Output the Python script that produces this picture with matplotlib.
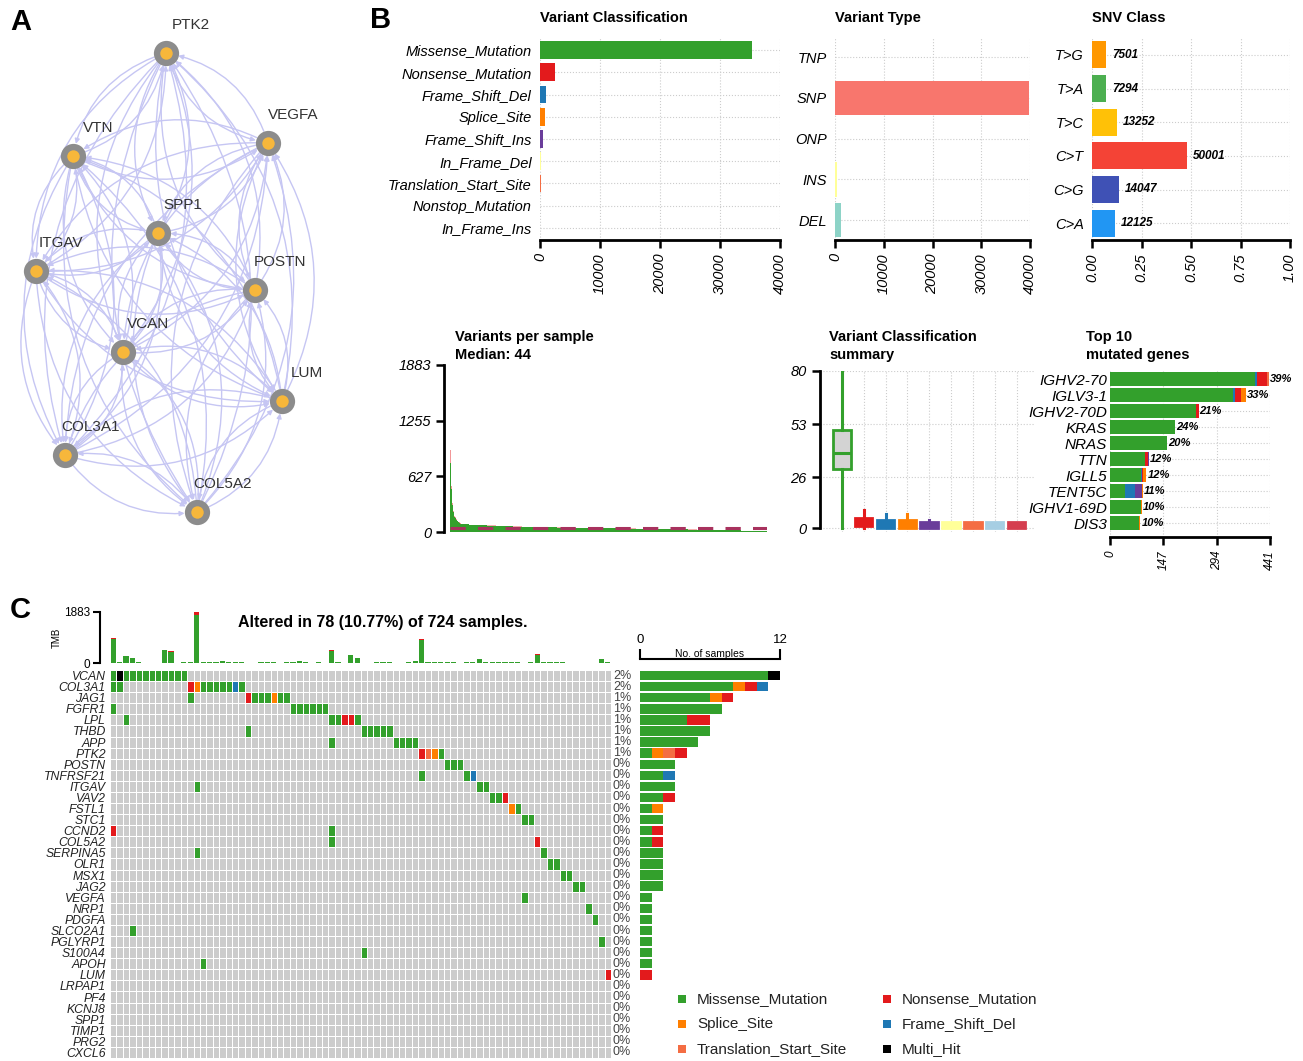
import numpy as np
import matplotlib
matplotlib.use('Agg')
import matplotlib.pyplot as plt
from matplotlib.patches import FancyArrowPatch
from matplotlib.colors import ListedColormap

plt.rcParams['font.family'] = ['Liberation Sans', 'DejaVu Sans']

W, H = 1303, 1061

# ---------------- data ----------------
# A: PPI network (layout in panel pixel units)
net_nodes = ['PTK2', 'VEGFA', 'VTN', 'SPP1', 'ITGAV', 'POSTN', 'VCAN', 'LUM', 'COL3A1', 'COL5A2']
net_x = [166, 268, 73, 158, 36, 255, 123, 282, 65, 197]
net_y = [53, 143, 156, 233, 271, 290, 352, 401, 455, 512]
net_edges = [
    ('PTK2', 'VEGFA'), ('PTK2', 'VTN'), ('PTK2', 'SPP1'), ('PTK2', 'ITGAV'), ('PTK2', 'POSTN'),
    ('PTK2', 'VCAN'), ('PTK2', 'LUM'), ('PTK2', 'COL3A1'), ('PTK2', 'COL5A2'),
    ('VEGFA', 'VTN'), ('VEGFA', 'SPP1'), ('VEGFA', 'ITGAV'), ('VEGFA', 'POSTN'), ('VEGFA', 'VCAN'),
    ('VEGFA', 'LUM'), ('VEGFA', 'COL3A1'), ('VEGFA', 'COL5A2'),
    ('VTN', 'SPP1'), ('VTN', 'ITGAV'), ('VTN', 'POSTN'), ('VTN', 'VCAN'), ('VTN', 'LUM'),
    ('VTN', 'COL3A1'), ('VTN', 'COL5A2'),
    ('SPP1', 'ITGAV'), ('SPP1', 'POSTN'), ('SPP1', 'VCAN'), ('SPP1', 'LUM'), ('SPP1', 'COL3A1'), ('SPP1', 'COL5A2'),
    ('ITGAV', 'POSTN'), ('ITGAV', 'VCAN'), ('ITGAV', 'LUM'), ('ITGAV', 'COL3A1'), ('ITGAV', 'COL5A2'),
    ('POSTN', 'VCAN'), ('POSTN', 'LUM'), ('POSTN', 'COL3A1'), ('POSTN', 'COL5A2'),
    ('VCAN', 'LUM'), ('VCAN', 'COL3A1'), ('VCAN', 'COL5A2'),
    ('LUM', 'COL3A1'), ('LUM', 'COL5A2'),
    ('COL3A1', 'COL5A2'),
]

# B: maf summary
vc_classes = ['Missense_Mutation', 'Nonsense_Mutation', 'Frame_Shift_Del', 'Splice_Site', 'Frame_Shift_Ins',
              'In_Frame_Del', 'Translation_Start_Site', 'Nonstop_Mutation', 'In_Frame_Ins']
vc_counts = [35400, 2500, 1000, 900, 550, 180, 120, 40, 30]
vc_colors = ['#33a02c', '#e31a1c', '#1f78b4', '#ff7f00', '#6a3d9a', '#ffff99', '#f46d43', '#a6cee3', '#d53e4f']

vt_types = ['TNP', 'SNP', 'ONP', 'INS', 'DEL']
vt_counts = [60, 39800, 20, 400, 1300]
vt_colors = ['#bebada', '#f8766d', '#80b1d3', '#ffff99', '#8dd3c7']

snv_class = ['T>G', 'T>A', 'T>C', 'C>T', 'C>G', 'C>A']
snv_counts = [7501, 7294, 13252, 50001, 14047, 12125]
snv_colors = ['#ff9800', '#4caf50', '#ffc107', '#f44336', '#3f51b5', '#2196f3']

vps_top = [1883, 920, 780, 520, 400, 330, 280, 240, 210, 195, 185, 175, 165, 155, 150, 140, 135, 128,
           122, 118, 112, 108, 104, 100]
vps_top_nons = [880, 140, 60, 40, 30, 25, 20, 18, 15, 14, 13, 12, 12, 11, 10, 10, 9, 9, 8, 8, 8, 7, 7, 7]
vps_bins = [92, 84, 78, 74, 70, 67, 64, 61, 58, 56, 54, 52, 50, 48, 46, 45, 44, 42, 41, 40, 38, 37, 35,
            34, 32, 30, 29, 27, 25, 23, 21, 19, 16, 13, 8]
vps_bins_nons = [3, 3, 3, 3, 2, 2, 2, 2, 2, 2, 2, 2, 2, 2, 2, 2, 1, 1, 1, 1, 1, 1, 1, 1, 1, 1, 1, 1, 1,
                 1, 1, 1, 1, 1, 0]
vps_bin_size = 20
vps_median = 44

# whislo, q1, med, q3, whishi per class
vcs_stats = [(0, 30, 38, 50, 80), (0, 1, 3, 5, 9), (0, 0, 1, 4, 7), (0, 0, 2, 4, 7), (0, 0, 1, 3, 4),
             (0, 0, 1, 3, 3), (0, 0, 1, 3, 3), (0, 0, 1, 3, 3), (0, 0, 1, 3, 3)]

top_genes = ['IGHV2-70', 'IGLV3-1', 'IGHV2-70D', 'KRAS', 'NRAS', 'TTN', 'IGLL5', 'TENT5C', 'IGHV1-69D', 'DIS3']
top_pct = ['39%', '33%', '21%', '24%', '20%', '12%', '12%', '11%', '10%', '10%']
top_missense = [399, 339, 237, 178, 158, 97, 86, 40, 86, 79]
top_fsdel = [7, 6, 0, 0, 0, 0, 2, 30, 0, 0]
top_nonsense = [26, 17, 7, 0, 0, 8, 2, 0, 0, 0]
top_fsins = [0, 0, 0, 0, 0, 3, 0, 17, 0, 0]
top_splice = [0, 12, 0, 2, 0, 0, 10, 4, 1, 5]
top_tss = [6, 0, 0, 0, 0, 0, 0, 0, 0, 0]

# C: oncoplot
n_total = 724
n_altered = 78
onco_genes = ['VCAN', 'COL3A1', 'JAG1', 'FGFR1', 'LPL', 'THBD', 'APP', 'PTK2', 'POSTN', 'TNFRSF21', 'ITGAV',
              'VAV2', 'FSTL1', 'STC1', 'CCND2', 'COL5A2', 'SERPINA5', 'OLR1', 'MSX1', 'JAG2', 'VEGFA', 'NRP1',
              'PDGFA', 'SLCO2A1', 'PGLYRP1', 'S100A4', 'APOH', 'LUM', 'LRPAP1', 'PF4', 'KCNJ8', 'SPP1',
              'TIMP1', 'PRG2', 'CXCL6']
onco_hits = {
    'VCAN': {'M': [0, 2, 3, 4, 5, 6, 7, 8, 9, 10, 11], 'H': [1]},
    'COL3A1': {'M': [0, 1, 14, 15, 16, 17, 18, 20], 'N': [12], 'S': [13], 'D': [19]},
    'JAG1': {'M': [12, 22, 23, 24, 26, 27], 'N': [21], 'S': [25]},
    'FGFR1': {'M': [0, 28, 29, 30, 31, 32, 33]},
    'LPL': {'M': [2, 34, 35, 38], 'N': [36, 37]},
    'THBD': {'M': [21, 39, 40, 41, 42, 43]},
    'APP': {'M': [34, 44, 45, 46, 47]},
    'PTK2': {'M': [51], 'N': [48], 'T': [49], 'S': [50]},
    'POSTN': {'M': [52, 53, 54]},
    'TNFRSF21': {'M': [48, 55], 'D': [56]},
    'ITGAV': {'M': [13, 57, 58]},
    'VAV2': {'M': [59, 60], 'N': [61]},
    'FSTL1': {'M': [63], 'S': [62]},
    'STC1': {'M': [64, 65]},
    'CCND2': {'M': [34], 'N': [0]},
    'COL5A2': {'M': [34], 'N': [66]},
    'SERPINA5': {'M': [13, 67]},
    'OLR1': {'M': [68, 69]},
    'MSX1': {'M': [70, 71]},
    'JAG2': {'M': [72, 73]},
    'VEGFA': {'M': [64]},
    'NRP1': {'M': [74]},
    'PDGFA': {'M': [75]},
    'SLCO2A1': {'M': [3]},
    'PGLYRP1': {'M': [76]},
    'S100A4': {'M': [39]},
    'APOH': {'M': [14]},
    'LUM': {'N': [77]},
}
tmb_total = [936, 30, 266, 173, 20, 15, 10, 15, 497, 427, 15, 20, 30, 1883, 45, 30, 30, 60, 25, 20, 20,
             10, 5, 25, 20, 45, 15, 20, 25, 70, 30, 15, 20, 10, 474, 20, 10, 300, 173, 15, 10, 30, 25, 30,
             10, 10, 25, 60, 901, 25, 20, 30, 25, 20, 15, 25, 20, 150, 50, 30, 30, 25, 45, 30, 15, 20, 323,
             45, 20, 35, 25, 15, 10, 15, 10, 12, 150, 20]
tmb_red = {0: 60, 8: 35, 9: 25, 13: 120, 34: 30, 37: 20, 48: 60, 66: 20}

mut_types = ['M', 'S', 'T', 'N', 'D', 'H']
mut_names = {'M': 'Missense_Mutation', 'N': 'Nonsense_Mutation', 'S': 'Splice_Site',
             'D': 'Frame_Shift_Del', 'T': 'Translation_Start_Site', 'H': 'Multi_Hit'}
mut_colors = {'M': '#33a02c', 'N': '#e31a1c', 'S': '#ff7f00', 'D': '#1f78b4', 'T': '#f46d43', 'H': '#000000'}

# ---------------- figure ----------------
fig = plt.figure(figsize=(W / 100, H / 100), dpi=100)


def add_ax(x0, y0, x1, y1):
    return fig.add_axes([x0 / W, 1 - y1 / H, (x1 - x0) / W, (y1 - y0) / H])


def ftext(x, y, s, **kw):
    return fig.text(x / W, 1 - y / H, s, **kw)


ftext(10, 22, 'A', fontsize=21, fontweight='bold', va='center')
ftext(370, 20, 'B', fontsize=21, fontweight='bold', va='center')
ftext(10, 610, 'C', fontsize=21, fontweight='bold', va='center')

# ---- A network ----
axA = add_ax(0, 0, 340, 540)
axA.set_xlim(0, 340)
axA.set_ylim(540, 0)
axA.axis('off')
pos = dict(zip(net_nodes, zip(net_x, net_y)))
for a, b in net_edges:
    for s, t in ((a, b), (b, a)):
        axA.add_patch(FancyArrowPatch(pos[s], pos[t], connectionstyle='arc3,rad=0.3',
                                      arrowstyle='-|>', mutation_scale=7, color='#c6c6f3',
                                      lw=1.0, shrinkA=9, shrinkB=9, zorder=1))
axA.scatter(net_x, net_y, s=330, c='#8c8c8c', zorder=3, linewidths=0)
axA.scatter(net_x, net_y, s=80, c='#f7b73b', zorder=4, linewidths=0)
for name, x, y in zip(net_nodes, net_x, net_y):
    axA.text(x + 25, y - 28, name, ha='center', va='center', fontsize=11, color='#333333', zorder=5)

# ---- B top ----
def style_bar_ax(ax, xticks, xlabels):
    for sp in ['left', 'top', 'right']:
        ax.spines[sp].set_visible(False)
    ax.spines['bottom'].set_linewidth(2)
    ax.set_xticks(xticks)
    ax.set_xticklabels(xlabels, rotation=90, fontstyle='italic', fontsize=10.5)
    ax.tick_params(axis='x', length=6, width=1.8)
    ax.tick_params(axis='y', length=0, pad=6, labelsize=10.5)
    for lab in ax.get_yticklabels():
        lab.set_fontstyle('italic')
    ax.grid(True, ls=':', color='#cccccc', lw=0.8)
    ax.set_axisbelow(True)


axVC = add_ax(540, 38, 780, 240)
axVC.barh(np.arange(len(vc_classes)), vc_counts, height=0.8, color=vc_colors)
axVC.set_xlim(0, 40000)
axVC.set_ylim(8.54, -0.54)
axVC.set_yticks(np.arange(len(vc_classes)))
axVC.set_yticklabels(vc_classes)
style_bar_ax(axVC, [0, 10000, 20000, 30000, 40000], ['0', '10000', '20000', '30000', '40000'])
ftext(540, 18, 'Variant Classification', fontsize=10.5, fontweight='bold', va='center')

axVT = add_ax(835, 38, 1030, 240)
axVT.barh(np.arange(len(vt_types)), vt_counts, height=0.85, color=vt_colors)
axVT.set_xlim(0, 40000)
axVT.set_ylim(4.49, -0.47)
axVT.set_yticks(np.arange(len(vt_types)))
axVT.set_yticklabels(vt_types)
style_bar_ax(axVT, [0, 10000, 20000, 30000, 40000], ['0', '10000', '20000', '30000', '40000'])
ftext(835, 18, 'Variant Type', fontsize=10.5, fontweight='bold', va='center')

axSN = add_ax(1092, 38, 1290, 240)
snv_frac = np.array(snv_counts) / np.sum(snv_counts)
axSN.barh(np.arange(len(snv_class)), snv_frac, height=0.8, color=snv_colors)
for i, (f, c) in enumerate(zip(snv_frac, snv_counts)):
    axSN.text(f + 0.03, i, str(c), va='center', ha='left', fontsize=8.5, fontweight='bold', fontstyle='italic')
axSN.set_xlim(0, 1)
axSN.set_ylim(5.5, -0.5)
axSN.set_yticks(np.arange(len(snv_class)))
axSN.set_yticklabels(snv_class)
style_bar_ax(axSN, [0, 0.25, 0.5, 0.75, 1.0], ['0.00', '0.25', '0.50', '0.75', '1.00'])
ftext(1092, 18, 'SNV Class', fontsize=10.5, fontweight='bold', va='center')

# ---- B bottom: variants per sample ----
axV = add_ax(450, 365, 767, 532)
ntop = len(vps_top)
top_x = np.arange(ntop)
top_mis = np.array(vps_top) - np.array(vps_top_nons)
axV.bar(top_x, top_mis, width=1, align='edge', color='#33a02c', lw=0)
axV.bar(top_x, vps_top_nons, bottom=top_mis, width=1, align='edge', color='#e31a1c', lw=0, alpha=0.45)
bin_x = ntop + np.arange(len(vps_bins)) * vps_bin_size
bin_mis = np.array(vps_bins) - np.array(vps_bins_nons)
axV.bar(bin_x, bin_mis, width=vps_bin_size, align='edge', color='#33a02c', lw=0)
axV.bar(bin_x, vps_bins_nons, bottom=bin_mis, width=vps_bin_size, align='edge', color='#e31a1c', lw=0,
        alpha=0.35)
axV.axhline(vps_median, ls=(0, (5, 4)), color='#a8325e', lw=2.2, zorder=5)
axV.set_xlim(0, n_total)
axV.set_ylim(0, 1883)
for sp in ['top', 'right', 'bottom']:
    axV.spines[sp].set_visible(False)
axV.spines['left'].set_position(('outward', 4))
axV.spines['left'].set_linewidth(2)
axV.set_xticks([])
axV.set_yticks([0, 627, 1255, 1883])
axV.set_yticklabels(['0', '627', '1255', '1883'], fontstyle='italic', fontsize=10.5)
axV.tick_params(axis='y', length=6, width=1.8)
ftext(455, 337, 'Variants per sample', fontsize=10.5, fontweight='bold', va='center')
ftext(455, 355, 'Median: 44', fontsize=10.5, fontweight='bold', va='center')

# ---- variant classification summary ----
axB = add_ax(820, 371, 1034, 532)
for i, (st, col) in enumerate(zip(vcs_stats, vc_colors)):
    d = dict(whislo=st[0], q1=st[1], med=st[2], q3=st[3], whishi=st[4], fliers=[])
    face = '#d3d3d3' if i == 0 else col
    axB.bxp([d], positions=[i + 1], widths=0.8, showcaps=False, showfliers=False, patch_artist=True,
            boxprops=dict(facecolor=face, edgecolor=col, lw=2),
            whiskerprops=dict(color=col, lw=2.2), medianprops=dict(color=col, lw=2.2))
axB.set_xlim(0, 9.8)
axB.set_ylim(-2, 80)
axB.set_xticks(np.arange(1, 10))
axB.set_xticklabels([])
axB.tick_params(axis='x', length=0)
axB.set_yticks([0, 26, 53, 80])
axB.set_yticklabels(['0', '26', '53', '80'], fontstyle='italic', fontsize=10.5)
axB.tick_params(axis='y', length=6, width=1.8)
for sp in ['top', 'right', 'bottom']:
    axB.spines[sp].set_visible(False)
axB.spines['left'].set_linewidth(2)
axB.spines['left'].set_bounds(0, 80)
axB.grid(True, ls=':', color='#cccccc', lw=0.8)
axB.set_axisbelow(True)
ftext(829, 337, 'Variant Classification', fontsize=10.5, fontweight='bold', va='center')
ftext(829, 355, 'summary', fontsize=10.5, fontweight='bold', va='center')

# ---- top 10 genes ----
axG = add_ax(1110, 371, 1270, 537)
yy = np.arange(len(top_genes))
left = np.zeros(len(top_genes))
for vals, col in [(top_missense, '#33a02c'), (top_fsdel, '#1f78b4'), (top_nonsense, '#e31a1c'),
                  (top_fsins, '#6a3d9a'), (top_splice, '#ff7f00'), (top_tss, '#f46d43')]:
    axG.barh(yy, vals, left=left, height=0.85, color=col, lw=0)
    left += np.array(vals)
for i, p in enumerate(top_pct):
    axG.text(left[i] + 3, i, p, va='center', ha='left', fontsize=8, fontweight='bold', fontstyle='italic')
axG.set_xlim(0, 441)
axG.set_ylim(9.87, -0.5)
axG.set_yticks(yy)
axG.set_yticklabels(top_genes)
style_bar_ax(axG, [0, 147, 294, 441], ['0', '147', '294', '441'])
axG.tick_params(axis='x', labelsize=8.5)
axG.tick_params(axis='y', labelsize=11, pad=2)
ftext(1086, 337, 'Top 10', fontsize=10.5, fontweight='bold', va='center')
ftext(1086, 355, 'mutated genes', fontsize=10.5, fontweight='bold', va='center')

# ---- C: TMB bar ----
ncol = n_altered
axT = add_ax(110, 612, 611, 663)
red = np.array([tmb_red.get(i, 0) for i in range(ncol)])
green = np.array(tmb_total) - red
axT.bar(np.arange(ncol) + 0.5, green, width=0.8, color='#33a02c', lw=0)
axT.bar(np.arange(ncol) + 0.5, red, bottom=green, width=0.8, color='#e31a1c', lw=0)
axT.set_xlim(0, ncol)
axT.set_ylim(0, 1883)
for sp in ['top', 'right', 'bottom']:
    axT.spines[sp].set_visible(False)
axT.spines['left'].set_position(('outward', 7))
axT.spines['left'].set_linewidth(1.5)
axT.set_xticks([])
axT.set_yticks([0, 1883])
axT.tick_params(axis='y', length=5, width=1.5, labelsize=8.5, pad=2)
axT.set_ylabel('TMB', fontsize=7, labelpad=2)
ftext(383, 623, 'Altered in %d (%.2f%%) of %d samples.' % (n_altered, 100 * n_altered / n_total, n_total),
      fontsize=11.5, fontweight='bold', ha='center', va='center')

# ---- C: oncoplot grid ----
codes = {'M': 1, 'N': 2, 'S': 3, 'D': 4, 'T': 5, 'H': 6}
ngene = len(onco_genes)
mat = np.zeros((ngene, ncol), dtype=int)
for r, g in enumerate(onco_genes):
    for t, cols in onco_hits.get(g, {}).items():
        mat[r, cols] = codes[t]
cmap = ListedColormap(['#cccccc', mut_colors['M'], mut_colors['N'], mut_colors['S'], mut_colors['D'],
                       mut_colors['T'], mut_colors['H']])
axO = add_ax(110, 670, 611, 1058)
axO.pcolormesh(np.arange(ncol + 1), np.arange(ngene + 1), mat, cmap=cmap, vmin=-0.5, vmax=6.5,
               edgecolors='white', linewidth=0.7)
axO.set_xlim(0, ncol)
axO.set_ylim(ngene, 0)
axO.set_xticks([])
axO.set_yticks(np.arange(ngene) + 0.5)
axO.set_yticklabels(onco_genes, fontstyle='italic', fontsize=8.8, color='#222222')
axO.tick_params(axis='y', length=0, pad=3)
for sp in axO.spines.values():
    sp.set_visible(False)
gene_counts = {g: {t: len(onco_hits.get(g, {}).get(t, [])) for t in mut_types} for g in onco_genes}
for r, g in enumerate(onco_genes):
    tot = sum(gene_counts[g].values())
    axO.text(ncol + 0.3, r + 0.5, '%d%%' % round(100 * tot / n_total), va='center', ha='left',
             fontsize=9, color='#444444')

# ---- C: right bar ----
axR = add_ax(640, 670, 780, 1058)
left = np.zeros(ngene)
for t in mut_types:
    vals = np.array([gene_counts[g][t] for g in onco_genes])
    axR.barh(np.arange(ngene) + 0.5, vals, left=left, height=0.85, color=mut_colors[t], lw=0)
    left += vals
axR.set_xlim(0, 12)
axR.set_ylim(ngene, 0)
axR.set_yticks([])
for sp in ['left', 'right', 'bottom']:
    axR.spines[sp].set_visible(False)
axR.spines['top'].set_position(('outward', 8))
axR.spines['top'].set_linewidth(1.5)
axR.xaxis.set_ticks_position('top')
axR.set_xticks([0, 12])
axR.tick_params(axis='x', length=7, width=1.5, labelsize=9.5, pad=2)
axR.text(6, -0.25 - 8 / 11.1, 'No. of samples', ha='center', va='bottom', fontsize=7.5)

# ---- legend ----
axL = add_ax(660, 985, 1060, 1061)
axL.set_xlim(660, 1060)
axL.set_ylim(1061, 985)
axL.axis('off')
leg_order = [('M', 0, 0), ('N', 1, 0), ('S', 0, 1), ('D', 1, 1), ('T', 0, 2), ('H', 1, 2)]
for t, c, r in leg_order:
    x = 682 + c * 205
    y = 999 + r * 25
    axL.scatter([x], [y], marker='s', s=28, color=mut_colors[t], lw=0)
    axL.text(x + 15, y, mut_names[t], va='center', ha='left', fontsize=11, color='#222222')

fig.savefig('out.png', dpi=100)
